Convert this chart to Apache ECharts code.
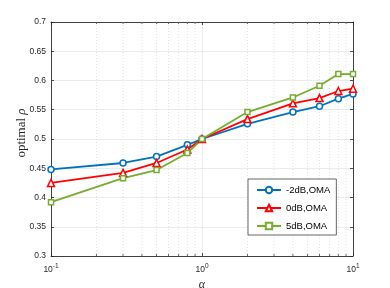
<!DOCTYPE html>
<html><head><meta charset="utf-8">
<script src="https://cdn.jsdelivr.net/npm/echarts@6/dist/echarts.min.js"></script>
<style>html,body{margin:0;padding:0;background:#fff}#c{width:390px;height:288px}</style>
</head><body><div id="c"></div>
<script>
var alphaVals = [0.1, 0.3, 0.5, 0.8, 1, 2, 4, 6, 8, 10];
var seriesNames = ['-2dB,OMA', '0dB,OMA', '5dB,OMA'];
var rhoM2dB = [0.448, 0.459, 0.470, 0.490, 0.500, 0.526, 0.546, 0.556, 0.569, 0.577];
var rho0dB  = [0.425, 0.442, 0.459, 0.482, 0.500, 0.534, 0.561, 0.570, 0.582, 0.586];
var rho5dB  = [0.392, 0.433, 0.447, 0.476, 0.500, 0.546, 0.571, 0.591, 0.611, 0.611];
var minorX = [0.2,0.3,0.4,0.5,0.6,0.7,0.8,0.9,2,3,4,5,6,7,8,9];
var yLabelText = 'optimal ';
var yLabelSym = 'ρ';
var xLabel = 'α';

function pairs(v){ return alphaVals.map(function(a,i){return [a, v[i]];}); }

var font = 'Liberation Sans, Arial, sans-serif';
var serif = 'Liberation Serif, DejaVu Serif, serif';
var axisCol = '#262626';
var chart = echarts.init(document.getElementById('c'));

var tickSeries = {
  type: 'custom', silent: true, z: 1, xAxisIndex: 0, yAxisIndex: 0,
  data: minorX.map(function(x){return [x];}),
  renderItem: function(params, api){
    var b = api.coord([api.value(0), 0.3]);
    var t = api.coord([api.value(0), 0.7]);
    return {type:'group', children:[
      {type:'line', shape:{x1:t[0],y1:t[1],x2:b[0],y2:b[1]}, style:{stroke:'#d4d4d4',lineWidth:0.7,lineDash:[1,2]}},
      {type:'line', shape:{x1:b[0],y1:b[1],x2:b[0],y2:b[1]-2}, style:{stroke:axisCol,lineWidth:0.7}},
      {type:'line', shape:{x1:t[0],y1:t[1],x2:t[0],y2:t[1]+2}, style:{stroke:axisCol,lineWidth:0.7}}
    ]};
  }
};

function lineSeries(name, data, color, symbol, size){
  return {
    name: name, type: 'line', data: pairs(data), symbol: symbol, symbolSize: size,
    showAllSymbol: true, z: 5,
    lineStyle: {color: color, width: 1.8},
    itemStyle: {color: '#fff', borderColor: color, borderWidth: 1.5},
    emphasis: {disabled: true}
  };
}

var axisLineStyle = {color: '#404040', width: 1};

chart.setOption({
  animation: false,
  textStyle: {fontFamily: font},
  grid: {left: 51, right: 37, top: 22, bottom: 32, containLabel: false, outerBoundsMode: 'none'},
  legend: {
    orient: 'vertical', left: 248, top: 179,
    padding: [6, 6, 4, 8], itemGap: 8, itemWidth: 24, itemHeight: 8,
    backgroundColor: '#fff', borderColor: '#404040', borderWidth: 0.8,
    textStyle: {fontSize: 9.5, color: '#000', fontFamily: font},
    data: seriesNames
  },
  graphic: [{
    type: 'text', x: 22, y: 133, rotation: Math.PI/2,
    style: {
      text: yLabelText + '{i|' + yLabelSym + '}',
      font: '13px ' + serif, fill: axisCol, align: 'center', verticalAlign: 'middle',
      rich: {i: {fontFamily: serif, fontSize: 13, fontStyle: 'italic', fill: axisCol}}
    }
  }],
  xAxis: [{
    type: 'log', logBase: 10, min: 0.1, max: 10,
    axisLine: {show: true, lineStyle: axisLineStyle},
    axisTick: {show: true, inside: true, length: 3, lineStyle: {color: axisCol, width: 0.8}},
    splitLine: {show: true, lineStyle: {color: '#e6e6e6', width: 0.8}},
    axisLabel: {
      margin: 7, color: axisCol, fontSize: 8.5,
      formatter: function(v){ var e = Math.round(Math.log10(v)); return '10{s|' + e + '}'; },
      rich: {s: {fontSize: 6.5, verticalAlign: 'top', padding: [0,0,6,0], color: axisCol}}
    },
    name: xLabel, nameLocation: 'middle', nameGap: 16,
    nameTextStyle: {fontFamily: serif, fontStyle: 'italic', fontSize: 12, color: axisCol}
  }, {
    type: 'log', logBase: 10, min: 0.1, max: 10, position: 'top',
    axisLine: {show: true, lineStyle: axisLineStyle},
    axisTick: {show: true, inside: true, length: 3, lineStyle: {color: axisCol, width: 0.8}},
    axisLabel: {show: false}, splitLine: {show: false}
  }],
  yAxis: [{
    type: 'value', min: 0.3, max: 0.7, interval: 0.05,
    axisLine: {show: true, lineStyle: axisLineStyle},
    axisTick: {show: true, inside: true, length: 3, lineStyle: {color: axisCol, width: 0.8}},
    splitLine: {show: true, lineStyle: {color: '#e6e6e6', width: 0.8}},
    axisLabel: {margin: 5, color: axisCol, fontSize: 8.5,
      formatter: function(v){ return String(+v.toFixed(2)); }}
  }, {
    type: 'value', min: 0.3, max: 0.7, interval: 0.05, position: 'right',
    axisLine: {show: true, lineStyle: axisLineStyle},
    axisTick: {show: true, inside: true, length: 3, lineStyle: {color: axisCol, width: 0.8}},
    axisLabel: {show: false}, splitLine: {show: false}
  }],
  series: [
    tickSeries,
    lineSeries(seriesNames[0], rhoM2dB, '#0072BD', 'circle', 6),
    lineSeries(seriesNames[1], rho0dB, '#FF0000', 'triangle', 7),
    lineSeries(seriesNames[2], rho5dB, '#77AC30', 'rect', 5)
  ]
});
</script></body></html>
